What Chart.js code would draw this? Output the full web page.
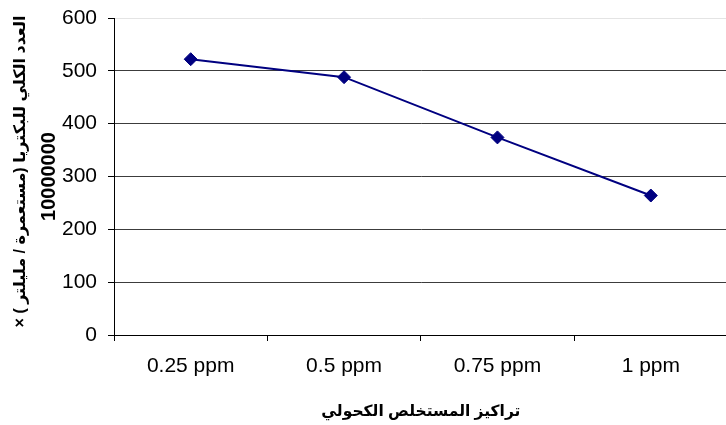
<!DOCTYPE html>
<html lang="ar">
<head>
<meta charset="utf-8">
<title>العدد الكلي للبكتريا</title>
<script src="https://cdn.jsdelivr.net/npm/chart.js@4/dist/chart.umd.min.js"></script>
<style>
  html, body { margin: 0; padding: 0; background: #ffffff; overflow: hidden; width: 726px; height: 425px; }
  #wrap { position: relative; width: 735px; height: 425px; }
  canvas { display: block; }
</style>
</head>
<body>
<div id="wrap"><canvas id="chart" width="735" height="425"></canvas></div>
<script>
// Alcohol extract concentrations and total bacterial count (colony / ml) × 10000000
const concentrations = ['0.25 ppm', '0.5 ppm', '0.75 ppm', '1 ppm'];
const bacteriaCount = [522, 488, 374, 264];
const yTickValues = [0, 100, 200, 300, 400, 500, 600];

const yTitleText = '\u200Fالعدد الكلي للبكتريا (مستعمرة / مليلتر ) ×\u200F';
const yTitleMultiplier = '10000000';
const xTitleText = 'تراكيز المستخلص الكحولي';

const FONT = "'Liberation Sans', Arial, 'DejaVu Sans', sans-serif";

// Two-line rotated y-axis title: the description and the multiplier below it
const yAxisTitle = {
  id: 'yAxisTitle',
  afterDraw(chart) {
    const y = chart.scales.y;
    const mid = (y.top + y.bottom) / 2;
    const ctx = chart.ctx;
    ctx.save();
    ctx.fillStyle = '#000000';
    ctx.textAlign = 'center';
    ctx.textBaseline = 'middle';

    ctx.save();
    ctx.translate(21, mid - 5);
    ctx.rotate(-Math.PI / 2);
    ctx.font = 'bold 16px ' + FONT;
    ctx.fillText(yTitleText, 0, 0);
    ctx.restore();

    ctx.save();
    ctx.translate(49.5, mid);
    ctx.rotate(-Math.PI / 2);
    ctx.font = 'bold 20px ' + FONT;
    ctx.fillText(yTitleMultiplier, 0, 0);
    ctx.restore();

    ctx.restore();
  }
};

new Chart(document.getElementById('chart'), {
  type: 'line',
  data: {
    labels: concentrations,
    datasets: [{
      data: bacteriaCount,
      borderColor: '#000080',
      backgroundColor: '#000080',
      borderWidth: 2,
      pointStyle: 'rectRot',
      pointRadius: 6.5,
      pointHoverRadius: 6.5,
      pointBorderWidth: 1,
      tension: 0,
      fill: false
    }]
  },
  plugins: [yAxisTitle],
  options: {
    responsive: false,
    animation: false,
    layout: { padding: { top: 18, right: 0, bottom: 0, left: 0 } },
    plugins: { legend: { display: false }, tooltip: { enabled: false } },
    scales: {
      x: {
        type: 'category',
        offset: true,
        grid: {
          display: true,
          offset: true,
          drawOnChartArea: false,
          drawTicks: true,
          tickLength: 6,
          color: '#000000',
          tickColor: '#000000'
        },
        border: { display: true, color: '#000000', width: 1 },
        ticks: {
          color: '#000000',
          padding: 13,
          maxRotation: 0,
          font: { family: FONT, size: 21 }
        },
        title: {
          display: true,
          text: xTitleText,
          color: '#000000',
          padding: { top: 0, bottom: 4 },
          font: { family: FONT, size: 15.5, weight: 'bold', lineHeight: 1.2 }
        },
        afterFit: (scale) => { scale.height = 90; }
      },
      y: {
        min: 0,
        max: 600,
        afterBuildTicks: (scale) => { scale.ticks = yTickValues.map(v => ({ value: v })); },
        grid: {
          drawTicks: true,
          tickLength: 6,
          lineWidth: 1,
          color: (ctx) => (ctx.tick && ctx.tick.value === 600 ? '#e4e4e4' : '#3c3c3c'),
          tickColor: '#000000'
        },
        border: { display: true, color: '#000000', width: 1 },
        ticks: {
          color: '#000000',
          padding: 11,
          font: { family: FONT, size: 21 }
        },
        afterFit: (scale) => {
          scale.width = 114;
          scale.paddingTop = 0;
          scale.paddingBottom = 0;
        }
      }
    }
  }
});
</script>
</body>
</html>
